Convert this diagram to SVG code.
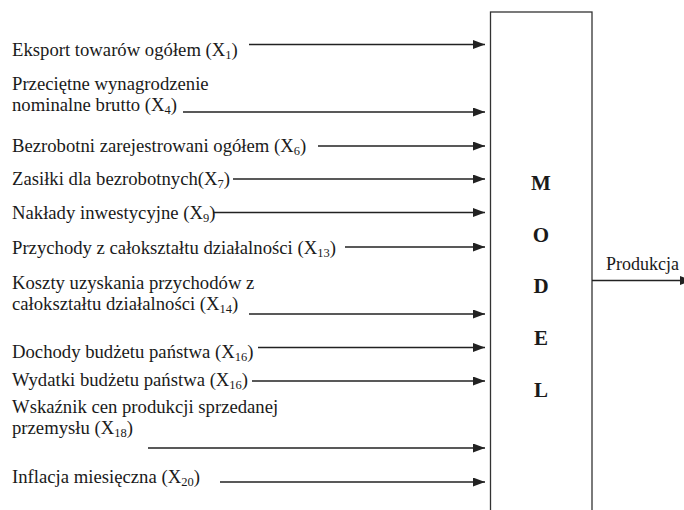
<svg xmlns="http://www.w3.org/2000/svg" width="684" height="510" viewBox="0 0 684 510">
<style>
.t{font-family:"Liberation Serif","Times New Roman",serif;font-size:18.7px;fill:#1a1a1a}
.p{font-family:"Liberation Serif","Times New Roman",serif;font-size:18px;fill:#1a1a1a}
.s{font-size:12.5px}
.m{font-family:"Liberation Serif","Times New Roman",serif;font-size:21px;font-weight:bold;fill:#1a1a1a}
.c{stroke:#222;stroke-width:1.7;fill:none}
.box{stroke:#333;stroke-width:1.3;fill:#fff}
</style>
<defs>
<marker id="ah" markerUnits="userSpaceOnUse" markerWidth="13" markerHeight="10" refX="12" refY="4.5" orient="auto">
<path d="M0,0 L12,4.5 L0,9 Z" fill="#222"/>
</marker>
</defs>
<rect width="684" height="510" fill="#fff"/>
<g id="model">
<rect class="box" x="490.5" y="12" width="101.5" height="510"/>
<text class="m" x="541" y="190" text-anchor="middle">M</text>
<text class="m" x="541" y="242" text-anchor="middle">O</text>
<text class="m" x="541" y="293" text-anchor="middle">D</text>
<text class="m" x="541" y="345" text-anchor="middle">E</text>
<text class="m" x="541" y="397" text-anchor="middle">L</text>
</g>
<g id="x1"><text class="t" x="12" y="56">Eksport towarów ogółem (X<tspan class="s" dy="3">1</tspan><tspan dy="-3">)</tspan></text></g>
<g id="x4"><text class="t" x="12" y="90">Przeciętne wynagrodzenie</text><text class="t" x="12" y="111">nominalne brutto (X<tspan class="s" dy="3">4</tspan><tspan dy="-3">)</tspan></text></g>
<g id="x6"><text class="t" x="12" y="152">Bezrobotni zarejestrowani ogółem (X<tspan class="s" dy="3">6</tspan><tspan dy="-3">)</tspan></text></g>
<g id="x7"><text class="t" x="12" y="185">Zasiłki dla bezrobotnych(X<tspan class="s" dy="3">7</tspan><tspan dy="-3">)</tspan></text></g>
<g id="x9"><text class="t" x="12" y="219">Nakłady inwestycyjne (X<tspan class="s" dy="3">9</tspan><tspan dy="-3">)</tspan></text></g>
<g id="x13"><text class="t" x="12" y="254">Przychody z całokształtu działalności (X<tspan class="s" dy="3">13</tspan><tspan dy="-3">)</tspan></text></g>
<g id="x14"><text class="t" x="12" y="289">Koszty uzyskania przychodów z</text><text class="t" x="12" y="310">całokształtu działalności (X<tspan class="s" dy="3">14</tspan><tspan dy="-3">)</tspan></text></g>
<g id="x16a"><text class="t" x="12" y="358">Dochody budżetu państwa (X<tspan class="s" dy="3">16</tspan><tspan dy="-3">)</tspan></text></g>
<g id="x16b"><text class="t" x="12" y="386">Wydatki budżetu państwa (X<tspan class="s" dy="3">16</tspan><tspan dy="-3">)</tspan></text></g>
<g id="x18"><text class="t" x="12" y="413">Wskaźnik cen produkcji sprzedanej</text><text class="t" x="12" y="434">przemysłu (X<tspan class="s" dy="3">18</tspan><tspan dy="-3">)</tspan></text></g>
<g id="x20"><text class="t" x="12" y="483">Inflacja miesięczna (X<tspan class="s" dy="3">20</tspan><tspan dy="-3">)</tspan></text></g>
<g id="out"><text class="p" x="606" y="270">Produkcja</text></g>
<g id="connectors">
<line class="c" x1="249" y1="44.5" x2="485" y2="44.5" marker-end="url(#ah)"/>
<line class="c" x1="183" y1="112" x2="485" y2="112" marker-end="url(#ah)"/>
<line class="c" x1="318" y1="146" x2="485" y2="146" marker-end="url(#ah)"/>
<line class="c" x1="233" y1="179" x2="485" y2="179" marker-end="url(#ah)"/>
<line class="c" x1="213" y1="212.5" x2="485" y2="212.5" marker-end="url(#ah)"/>
<line class="c" x1="345" y1="247" x2="485" y2="247" marker-end="url(#ah)"/>
<line class="c" x1="249" y1="314" x2="485" y2="314" marker-end="url(#ah)"/>
<line class="c" x1="258" y1="347.5" x2="485" y2="347.5" marker-end="url(#ah)"/>
<line class="c" x1="252" y1="381" x2="485" y2="381" marker-end="url(#ah)"/>
<line class="c" x1="148" y1="448" x2="485" y2="448" marker-end="url(#ah)"/>
<line class="c" x1="220" y1="482" x2="485" y2="482" marker-end="url(#ah)"/>
<line class="c" x1="592" y1="280.5" x2="692" y2="280.5" marker-end="url(#ah)"/>
</g>
</svg>
